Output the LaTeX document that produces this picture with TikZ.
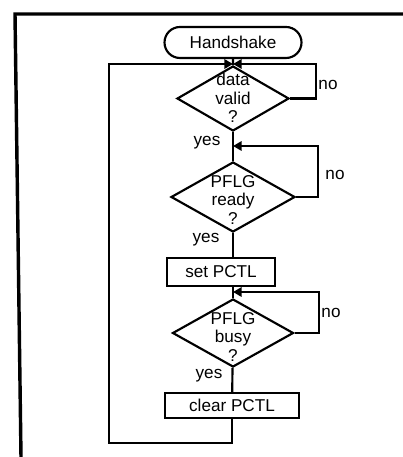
\documentclass[tikz,border=0pt]{standalone}
\usepackage{fontspec}
\setmainfont{Liberation Sans}
\usetikzlibrary{shapes.geometric,shapes.misc,arrows.meta}

\begin{document}
\begin{tikzpicture}[x=0.7pt,y=-0.7pt,
  every node/.style={font=\fontsize{12}{12.8}\selectfont},
  flow/.style={line width=1.5pt},
  loopback/.style={line width=1.5pt,-{Triangle[length=6pt,width=6.5pt]}},
  terminal/.style={draw,line width=1.5pt,rounded rectangle,inner sep=0pt,
    minimum width=95.9pt,minimum height=21.7pt},
  decision/.style={draw,line width=1.5pt,diamond,inner sep=0pt},
  process/.style={draw,line width=1.5pt,rectangle,inner sep=0pt},
  dtext/.style={align=center,inner sep=0pt}]
  \useasboundingbox (0,0) rectangle (403,457);
  % outer frame
  \draw[line width=2.4pt] (403,14) -- (15,14) -- (21,457);
  % blocks
  \node[terminal] (start) at (233,42.5) {Handshake};
  \node[decision,minimum width=78.4pt,minimum height=45.5pt] (valid) at (233,98.5) {};
  \node[dtext] (validtxt) at (233,98) {data\\valid\\?};
  \node[decision,minimum width=86.8pt,minimum height=49pt] (ready) at (233,197) {};
  \node[dtext] (readytxt) at (233,200) {PFLG\\ready\\?};
  \node[process,minimum width=75.6pt,minimum height=19.6pt] (setp) at (221,272) {set PCTL};
  \node[decision,minimum width=84.7pt,minimum height=47.6pt] (busy) at (233,333) {};
  \node[dtext] (busytxt) at (233,337) {PFLG\\busy\\?};
  \node[process,minimum width=93.8pt,minimum height=17.5pt] (clrp) at (232,405.5) {clear PCTL};
  % junctions and corners
  \coordinate (j1) at (233,64);
  \coordinate (j2) at (233,146);
  \coordinate (j3) at (233,292);
  \coordinate (r1) at (316,64);
  \coordinate (r2) at (318,146);
  \coordinate (r3) at (319,292);
  \coordinate (lb) at (109,443);
  % main line
  \draw[flow] (start) -- (valid);
  \draw[flow] (valid) -- (ready);
  \draw[flow] (ready) -- (ready |- setp.north);
  \draw[flow] (busy |- setp.south) -- (busy);
  \draw[flow] (busy) -- (clrp);
  % loops
  \draw[loopback] (valid.east) -| (r1) -- (j1);
  \draw[loopback] (ready.east) -| (r2) -- (j2);
  \draw[loopback] (busy.east) -| (r3) -- (j3);
  \draw[loopback] (clrp.south) |- (lb) |- (j1);
  % labels
  \node (yes1) at (207,143) {yes};
  \node (yes2) at (206,240) {yes};
  \node (yes3) at (209,376) {yes};
  \node (no1) at (328,85) {no};
  \node (no2) at (335,175) {no};
  \node (no3) at (331,313) {no};
\end{tikzpicture}
\end{document}
